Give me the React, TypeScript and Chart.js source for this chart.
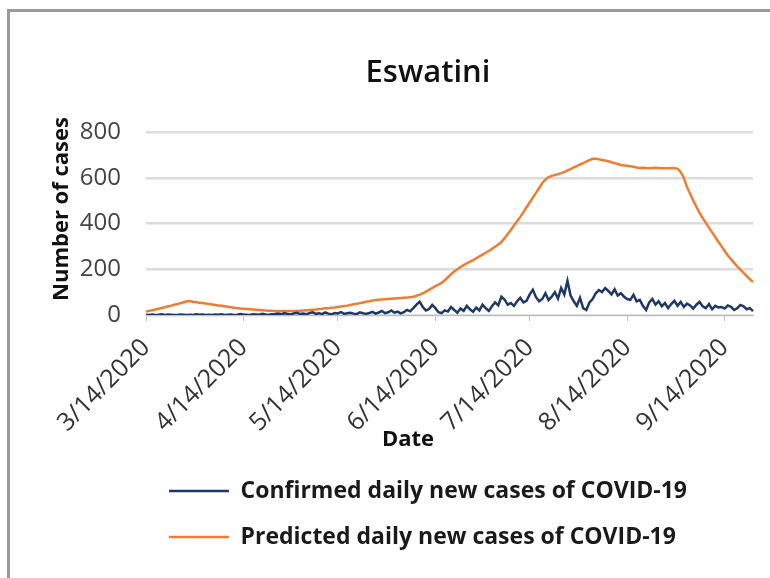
import React, { useEffect, useRef } from "react";
import { Chart, registerables } from "chart.js";

Chart.register(...registerables);

// ---------- data ----------
const START_DATE = "2020-03-14";
const TITLE = "Eswatini";
const X_TITLE = "Date";
const Y_TITLE = "Number of cases";
const SERIES_NAMES = [
  "Confirmed daily new cases of COVID-19",
  "Predicted daily new cases of COVID-19",
];
const X_TICK_LABELS = ["3/14/2020", "4/14/2020", "5/14/2020", "6/14/2020", "7/14/2020", "8/14/2020", "9/14/2020"];
const Y_TICKS = [0, 200, 400, 600, 800];

const confirmed = [
  1, 0, 2, 0, 1, 3, 0, 2, 1, 0, 0, 2, 1, 0, 1, 0, 3, 1, 2, 0, 1, 0, 2, 1, 3, 0, 1, 2, 0, 1, 4, 2, 1, 0, 3, 2, 1, 5, 2, 1, 3,
  4, 6, 3, 8, 5, 2, 7, 10, 4, 6, 3, 9, 12, 5, 8, 4, 11, 6, 3, 9, 7, 13, 5, 8, 10, 6, 4, 12, 8, 5,
  9, 14, 6, 11, 18, 8, 12, 20, 10, 15, 7, 13, 22, 16, 30, 45, 58, 35, 20, 26,
  44, 30, 12, 8, 20, 15, 35, 22, 10, 28, 18, 40, 25, 14, 32, 20, 45, 30, 18, 38, 55, 42,
  80, 68, 45, 52, 40, 60, 75, 55, 62, 90, 110, 78, 60,
  70, 95, 65, 80, 100, 72, 118, 90, 150, 85, 60, 40, 75, 30, 22,
  55, 70, 95, 109, 100, 118, 105, 90, 112, 85, 95, 80, 70, 66, 88, 60, 66, 40, 22, 55,
  70, 45, 60, 38, 52, 30, 48, 62, 40, 57, 35, 50, 42, 28, 45, 57, 38, 30, 48, 25, 40, 33, 35, 28, 42, 36, 22, 30, 44, 38, 25, 30, 17,
];

const predicted = [
  15, 18, 21, 24, 27, 31, 34, 38, 41, 45, 48, 52, 56, 60,
  60,
  58, 56, 54, 52, 50, 48, 46, 44, 42, 40, 38, 36, 34, 32, 30, 28,
  27, 26, 25, 24, 23, 22, 21, 20, 19, 19, 18, 18, 17, 17, 17, 17, 17,
  18, 19, 20, 21, 22, 23, 24, 26, 27, 29, 30, 32, 33, 35, 37, 39,
  41, 44, 47, 49, 52, 55, 58, 60, 63, 66,
  67, 68, 69, 70, 71, 72, 73, 74, 75, 76, 78, 80,
  84, 89, 95, 102, 110, 118, 126, 133, 140,
  152, 165, 178, 190, 200, 210, 218, 226, 233, 240,
  248, 256, 264, 272, 280, 289, 298, 308, 319,
  336, 354, 372, 391, 410, 429,
  450, 471, 492, 513, 534, 555, 577,
  592, 603,
  608, 612, 616, 620, 625,
  632, 638, 645, 651, 658, 664, 671, 677, 683,
  683,
  681, 678, 675, 672, 668, 664, 660, 656,
  654, 652, 650, 648, 645, 643,
  644, 643, 642, 643, 644, 643, 642, 641, 642, 643, 642, 640,
  625, 600, 560,
  530, 500, 473, 446,
  424, 403, 382, 361, 341,
  320, 300, 280, 260, 244,
  228, 212, 198, 184, 170, 156, 144,
];

// date categories (one per day)
function buildDates(start: string, n: number): string[] {
  const [y, m, d] = start.split("-").map(Number);
  const base = Date.UTC(y, m - 1, d);
  const out: string[] = [];
  for (let i = 0; i < n; i++) {
    const dt = new Date(base + i * 86400000);
    out.push(`${dt.getUTCMonth() + 1}/${dt.getUTCDate()}/${dt.getUTCFullYear()}`);
  }
  return out;
}
const dates = buildDates(START_DATE, Math.max(confirmed.length, predicted.length));

const FONT = '"Open Sans", "DejaVu Sans", sans-serif';

const textPlugin = {
  id: "texts",
  beforeDraw(chart: any) {
    const { ctx } = chart;
    ctx.save();
    ctx.fillStyle = "#9a9a9a";
    ctx.fillRect(7, 9, 3, 569);
    ctx.fillRect(7, 9, 763, 3);
    ctx.restore();
  },
  afterDraw(chart: any) {
    const { ctx } = chart;
    ctx.save();
    ctx.fillStyle = "#111";
    ctx.textAlign = "center";
    ctx.textBaseline = "middle";
    ctx.font = `600 31px ${FONT}`;
    ctx.fillText(TITLE, 428, 73);
    ctx.font = `bold 22px ${FONT}`;
    ctx.fillText(X_TITLE, 408, 440);
    ctx.translate(62, 209);
    ctx.rotate(-Math.PI / 2);
    ctx.font = `bold 22px ${FONT}`;
    ctx.fillText(Y_TITLE, 0, 0);
    ctx.restore();
  },
};

export default function App() {
  const ref = useRef<HTMLCanvasElement>(null);
  useEffect(() => {
    if (!ref.current) return;
    const chart = new Chart(ref.current, {
      type: "line",
      data: {
        labels: dates,
        datasets: [
          {
            label: SERIES_NAMES[0],
            data: confirmed,
            borderColor: "#1f3864",
            backgroundColor: "#1f3864",
            borderWidth: 2.5,
            pointRadius: 0,
            tension: 0,
          },
          {
            label: SERIES_NAMES[1],
            data: predicted,
            borderColor: "#ed7d31",
            backgroundColor: "#ed7d31",
            borderWidth: 2.5,
            pointRadius: 0,
            tension: 0,
          },
        ],
      },
      options: {
        responsive: false,
        animation: false,
        devicePixelRatio: 1,
        layout: { padding: { left: 0, right: 17, top: 132, bottom: 19.5 } },
        plugins: {
          tooltip: { enabled: false },
          title: { display: false },
          legend: {
            display: true,
            position: "bottom",
            align: "start",
            fullSize: false,
            labels: {
              usePointStyle: true,
              pointStyle: "line",
              pointStyleWidth: 60,
              padding: 23,
              color: "#1a1a1a",
              font: { family: FONT, size: 23, weight: "bold" },
            },
          },
        },
        scales: {
          x: {
            type: "category",
            afterFit: (axis: any) => {
              axis.height = 141.5;
            },
            grid: {
              drawOnChartArea: false,
              drawTicks: true,
              tickLength: 6,
              color: "#bfbfbf",
            },
            border: { display: true, color: "#bfbfbf", width: 1 },
            ticks: {
              autoSkip: false,
              maxRotation: 45,
              minRotation: 45,
              padding: 12,
              color: "#333333",
              font: { family: FONT, size: 25 },
              callback: function (this: any, val: any) {
                const lbl = this.getLabelForValue(val);
                return X_TICK_LABELS.includes(lbl) ? lbl : null;
              },
            },
          },
          y: {
            min: Y_TICKS[0],
            max: Y_TICKS[Y_TICKS.length - 1],
            afterFit: (axis: any) => {
              axis.width = 146;
            },
            afterBuildTicks: (axis: any) => {
              axis.ticks = Y_TICKS.map((v) => ({ value: v }));
            },
            grid: { color: "#dcdcdc", lineWidth: 2.5, drawTicks: false },
            border: { display: false },
            ticks: {
              padding: 25,
              color: "#444444",
              font: { family: FONT, size: 24 },
            },
          },
        },
      },
      plugins: [textPlugin],
    });
    return () => chart.destroy();
  }, []);
  return (
    <div style={{ position: "fixed", left: 0, top: 0, width: 770, height: 578, background: "#fff" }}>
      <canvas ref={ref} width={770} height={578} />
    </div>
  );
}
